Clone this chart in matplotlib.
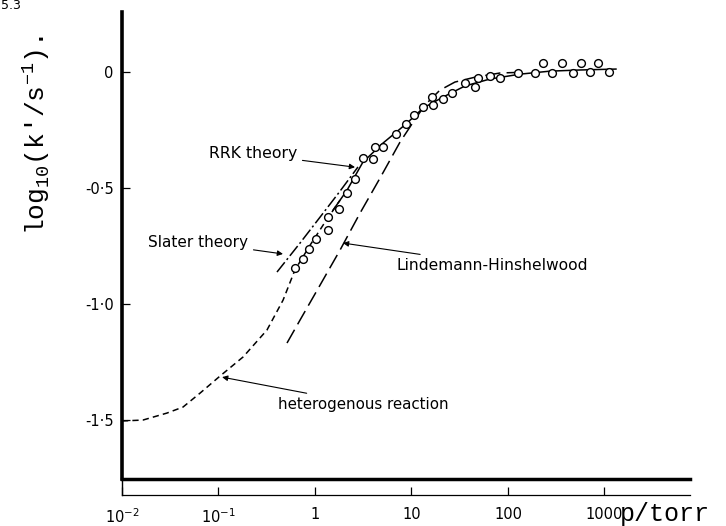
import numpy as np
import matplotlib
matplotlib.use("Agg")
import matplotlib.pyplot as plt
from matplotlib.lines import Line2D

plt.rcParams['lines.scale_dashes'] = False
plt.rcParams['mathtext.fontset'] = 'custom'
plt.rcParams['mathtext.rm'] = 'DejaVu Sans'
plt.rcParams['mathtext.tt'] = 'Liberation Mono'

# measured rate constants (p in torr, log10 k')
p_obs = np.array([0.62, 0.75, 0.87, 1.02, 1.36, 1.36, 1.77, 2.15, 2.60, 3.14,
                  3.99, 4.19, 5.07, 6.91, 8.77, 10.6, 13.2, 16.3, 16.7, 21.2,
                  26.3, 35.8, 45.5, 48.9, 65, 82.6, 127, 190, 231, 286,
                  363, 472, 571, 708, 857, 1113])
logk_obs = np.array([-0.845, -0.806, -0.763, -0.720, -0.681, -0.625, -0.591, -0.522, -0.461, -0.371,
                     -0.375, -0.323, -0.323, -0.267, -0.224, -0.185, -0.151, -0.108, -0.142, -0.116,
                     -0.091, -0.047, -0.065, -0.026, -0.017, -0.026, -0.004, -0.004, 0.039, -0.004,
                     0.039, -0.004, 0.039, 0.0, 0.039, 0.0])

# RRK theory (solid)
p_rrk = np.array([1.54, 2.15, 3.14, 5.07, 8.77, 13.2, 21.2, 35.8, 65, 133, 272, 557, 1315])
logk_rrk = np.array([-0.595, -0.509, -0.388, -0.306, -0.224, -0.155, -0.108, -0.060, -0.030,
                     -0.009, 0.004, 0.009, 0.013])

# Slater theory (dash-dot)
p_slater = np.array([0.404, 0.70, 1.13, 1.82, 2.79])
logk_slater = np.array([-0.862, -0.737, -0.625, -0.513, -0.409])

# Lindemann-Hinshelwood (long dashes)
p_lh = np.array([0.513, 0.70, 1.13, 1.82, 2.93, 4.72, 7.6, 10.4, 13.8, 19.7, 28.2, 45.5, 82.6, 161])
logk_lh = np.array([-1.168, -1.069, -0.918, -0.767, -0.608, -0.457, -0.302, -0.216, -0.142,
                    -0.078, -0.043, -0.022, -0.004, 0.0])

# heterogenous reaction (short dashes)
p_het = np.array([0.01, 0.0165, 0.0292, 0.0429, 0.0644, 0.104, 0.18, 0.318, 0.467, 0.62,
                  0.89, 1.27, 1.82])
logk_het = np.array([-1.504, -1.50, -1.470, -1.444, -1.384, -1.310, -1.228, -1.112, -0.983,
                     -0.853, -0.746, -0.647, -0.552])

xticks = [0.01, 0.1, 1, 10, 100, 1000]
xticklabels = [r"$10^{-2}$", r"$10^{-1}$", "1", "10", "100", "1000"]
yticks = [0, -0.5, -1.0, -1.5]
yticklabels = ["0", "-0·5", "-1·0", "-1·5"]

fig = plt.figure(figsize=(7.26, 5.26), dpi=100)
ax = fig.add_axes([0.168, 0.0894, 0.7824, 0.8878])

ax.plot(p_het, logk_het, color="black", lw=1.1, dashes=(4.5, 3))
ax.plot(p_lh, logk_lh, color="black", lw=1.1, dashes=(11, 4.5))
ax.plot(p_slater, logk_slater, color="black", lw=1.1, dashes=(9, 2.2, 1.5, 2.2))
ax.plot(p_rrk, logk_rrk, color="black", lw=1.1)
ax.plot(p_obs, logk_obs, "o", ms=5.6, mfc="white", mec="black", mew=1.0)

ax.set_xscale("log")
ax.set_xlim(0.01, 7690)
ax.set_ylim(-1.754, 0.259)

ax.set_xticks(xticks)
ax.set_xticklabels(xticklabels)
ax.minorticks_off()
ax.set_yticks(yticks)
ax.set_yticklabels(yticklabels)
ax.tick_params(axis="both", direction="in", length=6, width=0.9, labelsize=10.5, colors="black")
ax.tick_params(axis="y", pad=6)
ax.tick_params(axis="x", pad=9)

for s in ["top", "right"]:
    ax.spines[s].set_visible(False)
ax.spines["left"].set_linewidth(2.6)
ax.spines["bottom"].set_position(("outward", 11.5))
ax.spines["bottom"].set_linewidth(0.9)
ax.axhline(-1.754, color="black", lw=2.5, clip_on=False)
fig.add_artist(Line2D([0.168, 0.168], [0.0894, 0.059], transform=fig.transFigure,
                      color="black", lw=1.0))

arrow = dict(arrowstyle="-|>", lw=0.8, color="black", shrinkA=2, shrinkB=0, mutation_scale=8)
ax.annotate("RRK theory", xy=(2.6, -0.41), xytext=(0.65, -0.353), ha="right", va="center",
            fontsize=11.3, arrowprops=arrow)
ax.annotate("Slater theory", xy=(0.466, -0.784), xytext=(0.202, -0.733), ha="right", va="center",
            fontsize=11, arrowprops=arrow)
ax.annotate("Lindemann-Hinshelwood", xy=(1.95, -0.737), xytext=(7.07, -0.832), ha="left",
            va="center", fontsize=11.2, arrowprops=arrow)
ax.annotate("heterogenous reaction", xy=(0.109, -1.315), xytext=(0.414, -1.431), ha="left",
            va="center", fontsize=10.8, arrowprops=arrow)

fig.text(0.05, 1 - 135 / 526, r"log$_{\mathtt{10}}$(k'/s$^{\mathtt{-1}}$).", rotation=90,
         ha="center", va="center", fontsize=19, family="Liberation Mono")
fig.text(620 / 726, 1 - 521 / 526, "p/torr", ha="left", va="baseline", fontsize=18,
         family="Liberation Mono")
fig.text(0.002, 1 - 9 / 526, "5.3", ha="left", va="baseline", fontsize=9)

fig.savefig("out.png", dpi=100)
